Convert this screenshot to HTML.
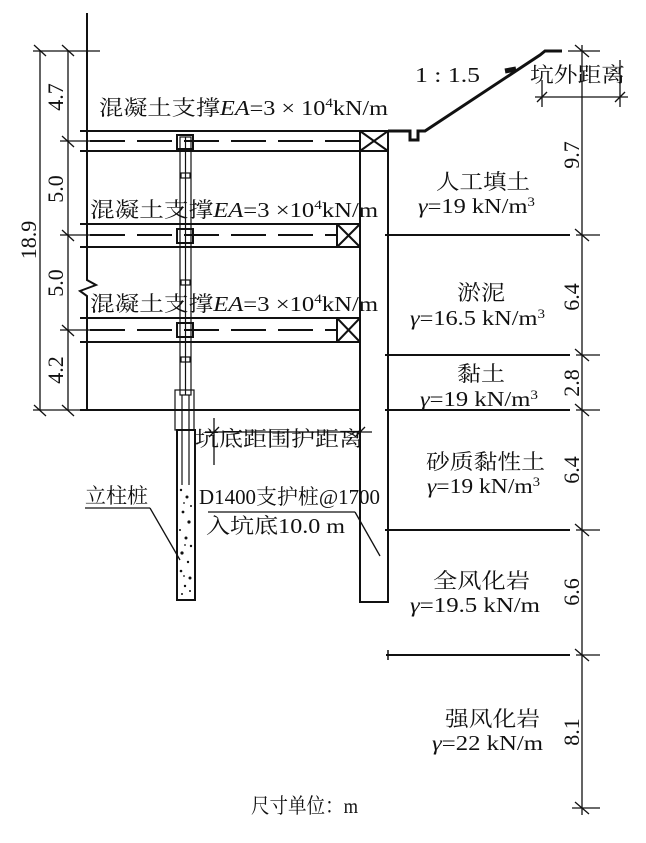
<!DOCTYPE html>
<html><head><meta charset="utf-8"><style>
body{margin:0;background:#fff}
svg text{font-family:"Liberation Serif","Noto Serif CJK SC",serif;fill:#111}
</style></head><body>
<svg width="646" height="838" viewBox="0 0 646 838" xmlns="http://www.w3.org/2000/svg">
<g stroke="#111" fill="none" stroke-width="2">
<polyline points="87,13 87,280 96,285 80,291 87,296 87,410"/>
<line x1="40" y1="50" x2="40" y2="410" stroke-width="1.3"/>
<line x1="68" y1="50" x2="68" y2="410" stroke-width="1.3"/>
<line x1="33" y1="51" x2="100" y2="51" stroke-width="1.3"/>
<g stroke-width="1.3">
<line x1="34" y1="45" x2="46" y2="56"/><line x1="62" y1="45" x2="74" y2="56"/>
<line x1="62" y1="136" x2="74" y2="147"/><line x1="60" y1="141" x2="90" y2="141"/>
<line x1="62" y1="230" x2="74" y2="241"/><line x1="60" y1="235" x2="90" y2="235"/>
<line x1="62" y1="325" x2="74" y2="336"/><line x1="60" y1="330" x2="90" y2="330"/>
<line x1="34" y1="405" x2="46" y2="416"/><line x1="62" y1="405" x2="74" y2="416"/>
<line x1="33" y1="410" x2="80" y2="410"/>
</g>
<line x1="80" y1="131" x2="388" y2="131"/><line x1="80" y1="151" x2="360" y2="151"/>
<line x1="90" y1="141" x2="360" y2="141" stroke-dasharray="35,12"/>
<rect x="360" y="131" width="28" height="20"/><line x1="360" y1="131" x2="388" y2="151"/><line x1="388" y1="131" x2="360" y2="151"/>
<line x1="80" y1="224" x2="360" y2="224"/><line x1="80" y1="247" x2="360" y2="247"/>
<line x1="90" y1="235" x2="337" y2="235" stroke-dasharray="35,12"/>
<rect x="337" y="224" width="23" height="23"/><line x1="337" y1="224" x2="360" y2="247"/><line x1="360" y1="224" x2="337" y2="247"/>
<line x1="80" y1="318" x2="360" y2="318"/><line x1="80" y1="342" x2="360" y2="342"/>
<line x1="90" y1="330" x2="337" y2="330" stroke-dasharray="35,12"/>
<rect x="337" y="318" width="23" height="24"/><line x1="337" y1="318" x2="360" y2="342"/><line x1="360" y1="318" x2="337" y2="342"/>
<line x1="80" y1="410" x2="360" y2="410"/>
<rect x="360" y="151" width="28" height="451"/>
<g stroke-width="1.2">
<rect x="180" y="137" width="11" height="258"/>
<line x1="185.5" y1="137" x2="185.5" y2="395"/>
<rect x="177" y="135" width="16" height="14" stroke-width="2"/>
<rect x="177" y="229" width="16" height="14" stroke-width="2"/>
<rect x="177" y="323" width="16" height="14" stroke-width="2"/>
<rect x="181" y="173" width="9" height="5"/><rect x="181" y="280" width="9" height="5"/><rect x="181" y="357" width="9" height="5"/>
<rect x="175" y="390" width="19" height="40"/>
<rect x="177" y="430" width="18" height="170" stroke-width="2"/>
<line x1="182" y1="395" x2="182" y2="485"/><line x1="189" y1="395" x2="189" y2="485"/>
</g>
<line x1="85" y1="508" x2="150" y2="508" stroke-width="1.3"/>
<line x1="150" y1="508" x2="180" y2="560" stroke-width="1.3"/>
<line x1="205" y1="432" x2="372" y2="432" stroke-width="1.3"/>
<line x1="214" y1="418" x2="214" y2="465" stroke-width="1.3"/>
<line x1="209" y1="437" x2="219" y2="427" stroke-width="1.3"/><line x1="355" y1="437" x2="365" y2="427" stroke-width="1.3"/>
<line x1="208" y1="512" x2="355" y2="512" stroke-width="1.3"/>
<line x1="355" y1="512" x2="380" y2="556" stroke-width="1.3"/>
<line x1="385" y1="235" x2="570" y2="235"/>
<line x1="385" y1="355" x2="570" y2="355"/>
<line x1="385" y1="410" x2="570" y2="410"/>
<line x1="385" y1="530" x2="570" y2="530"/>
<line x1="386" y1="655" x2="570" y2="655"/><line x1="388" y1="650" x2="388" y2="660" stroke-width="1.5"/>
<line x1="582" y1="45" x2="582" y2="815" stroke-width="1.3"/>
<g stroke-width="1.3">
<line x1="568" y1="51" x2="600" y2="51"/>
<line x1="575" y1="45" x2="589" y2="57"/>
<line x1="575" y1="229" x2="589" y2="241"/><line x1="576" y1="235" x2="600" y2="235"/>
<line x1="575" y1="349" x2="589" y2="361"/><line x1="576" y1="355" x2="600" y2="355"/>
<line x1="575" y1="404" x2="589" y2="416"/><line x1="576" y1="410" x2="600" y2="410"/>
<line x1="575" y1="524" x2="589" y2="536"/><line x1="576" y1="530" x2="600" y2="530"/>
<line x1="575" y1="649" x2="589" y2="661"/><line x1="576" y1="655" x2="600" y2="655"/>
<line x1="575" y1="802" x2="589" y2="814"/><line x1="572" y1="808" x2="600" y2="808"/>
</g>
<polyline points="388,131 410,131 410,140 418,140 418,131 425,131 540,55 545,51 562,51" stroke-width="3"/>
<line x1="505" y1="71" x2="516" y2="69" stroke-width="5"/>
<line x1="535" y1="97" x2="628" y2="97" stroke-width="1.3"/>
<line x1="542" y1="80" x2="542" y2="107" stroke-width="1.3"/>
<line x1="620" y1="60" x2="620" y2="107" stroke-width="1.3"/>
<line x1="537" y1="102" x2="547" y2="92" stroke-width="1.3"/><line x1="615" y1="102" x2="625" y2="92" stroke-width="1.3"/>
</g>
<g fill="#111">
<circle cx="181" cy="490" r="1.2"/><circle cx="187" cy="497" r="1.5"/><circle cx="191" cy="506" r="1"/><circle cx="183" cy="512" r="1.4"/><circle cx="189" cy="522" r="1.6"/><circle cx="180" cy="530" r="1"/><circle cx="186" cy="538" r="1.5"/><circle cx="191" cy="546" r="1.2"/><circle cx="182" cy="553" r="1.6"/><circle cx="188" cy="562" r="1.2"/><circle cx="181" cy="571" r="1.3"/><circle cx="190" cy="578" r="1.5"/><circle cx="185" cy="586" r="1.2"/><circle cx="182" cy="594" r="1"/><circle cx="190" cy="591" r="1"/><circle cx="184" cy="503" r="0.9"/><circle cx="185" cy="545" r="0.9"/><circle cx="184" cy="576" r="0.9"/>
</g>
<g font-size="21" lengthAdjust="spacingAndGlyphs">
<text x="99" y="115" textLength="289" lengthAdjust="spacingAndGlyphs">混凝土支撑<tspan font-style="italic">EA</tspan>=3 × 10<tspan font-size="13" dy="-8">4</tspan><tspan dy="8">kN/m</tspan></text>
<text x="90" y="217" textLength="288" lengthAdjust="spacingAndGlyphs">混凝土支撑<tspan font-style="italic">EA</tspan>=3 ×10<tspan font-size="13" dy="-8">4</tspan><tspan dy="8">kN/m</tspan></text>
<text x="90" y="311" textLength="288" lengthAdjust="spacingAndGlyphs">混凝土支撑<tspan font-style="italic">EA</tspan>=3 ×10<tspan font-size="13" dy="-8">4</tspan><tspan dy="8">kN/m</tspan></text>
<text x="415" y="82" textLength="65" lengthAdjust="spacingAndGlyphs">1 : 1.5</text>
<text x="530" y="82" textLength="95" lengthAdjust="spacingAndGlyphs">坑外距离</text>
<text x="436" y="189" textLength="94" lengthAdjust="spacingAndGlyphs">人工填土</text>
<text x="418" y="213" textLength="117" lengthAdjust="spacingAndGlyphs"><tspan font-style="italic">γ</tspan>=19 kN/m<tspan font-size="13" dy="-7">3</tspan></text>
<text x="457" y="300" textLength="48" lengthAdjust="spacingAndGlyphs">淤泥</text>
<text x="410" y="325" textLength="135" lengthAdjust="spacingAndGlyphs"><tspan font-style="italic">γ</tspan>=16.5 kN/m<tspan font-size="13" dy="-7">3</tspan></text>
<text x="457" y="381" textLength="48" lengthAdjust="spacingAndGlyphs">黏土</text>
<text x="420" y="406" textLength="118" lengthAdjust="spacingAndGlyphs"><tspan font-style="italic">γ</tspan>=19 kN/m<tspan font-size="13" dy="-7">3</tspan></text>
<text x="426" y="469" textLength="119" lengthAdjust="spacingAndGlyphs">砂质黏性土</text>
<text x="427" y="493" textLength="113" lengthAdjust="spacingAndGlyphs"><tspan font-style="italic">γ</tspan>=19 kN/m<tspan font-size="13" dy="-7">3</tspan></text>
<text x="433" y="588" textLength="97" lengthAdjust="spacingAndGlyphs">全风化岩</text>
<text x="410" y="612" textLength="130" lengthAdjust="spacingAndGlyphs"><tspan font-style="italic">γ</tspan>=19.5 kN/m</text>
<text x="445" y="726" textLength="95" lengthAdjust="spacingAndGlyphs">强风化岩</text>
<text x="432" y="750" textLength="111" lengthAdjust="spacingAndGlyphs"><tspan font-style="italic">γ</tspan>=22 kN/m</text>
<text x="195" y="446" textLength="168" lengthAdjust="spacingAndGlyphs">坑底距围护距离</text>
<text x="199" y="504" textLength="181" lengthAdjust="spacingAndGlyphs">D1400支护桩@1700</text>
<text x="206" y="533" textLength="139" lengthAdjust="spacingAndGlyphs">入坑底10.0 m</text>
<text x="85" y="503" textLength="63" lengthAdjust="spacingAndGlyphs">立柱桩</text>
<text x="251" y="813" textLength="107" lengthAdjust="spacingAndGlyphs">尺寸单位：m</text>
</g>
<g font-size="22">
<text transform="translate(63,97) rotate(-90)" text-anchor="middle">4.7</text>
<text transform="translate(63,189) rotate(-90)" text-anchor="middle">5.0</text>
<text transform="translate(63,283) rotate(-90)" text-anchor="middle">5.0</text>
<text transform="translate(63,370) rotate(-90)" text-anchor="middle">4.2</text>
<text transform="translate(36,240) rotate(-90)" text-anchor="middle">18.9</text>
<text transform="translate(579,155) rotate(-90)" text-anchor="middle">9.7</text>
<text transform="translate(579,297) rotate(-90)" text-anchor="middle">6.4</text>
<text transform="translate(579,383) rotate(-90)" text-anchor="middle">2.8</text>
<text transform="translate(579,470) rotate(-90)" text-anchor="middle">6.4</text>
<text transform="translate(579,592) rotate(-90)" text-anchor="middle">6.6</text>
<text transform="translate(579,732) rotate(-90)" text-anchor="middle">8.1</text>
</g>
</svg>
</body></html>
